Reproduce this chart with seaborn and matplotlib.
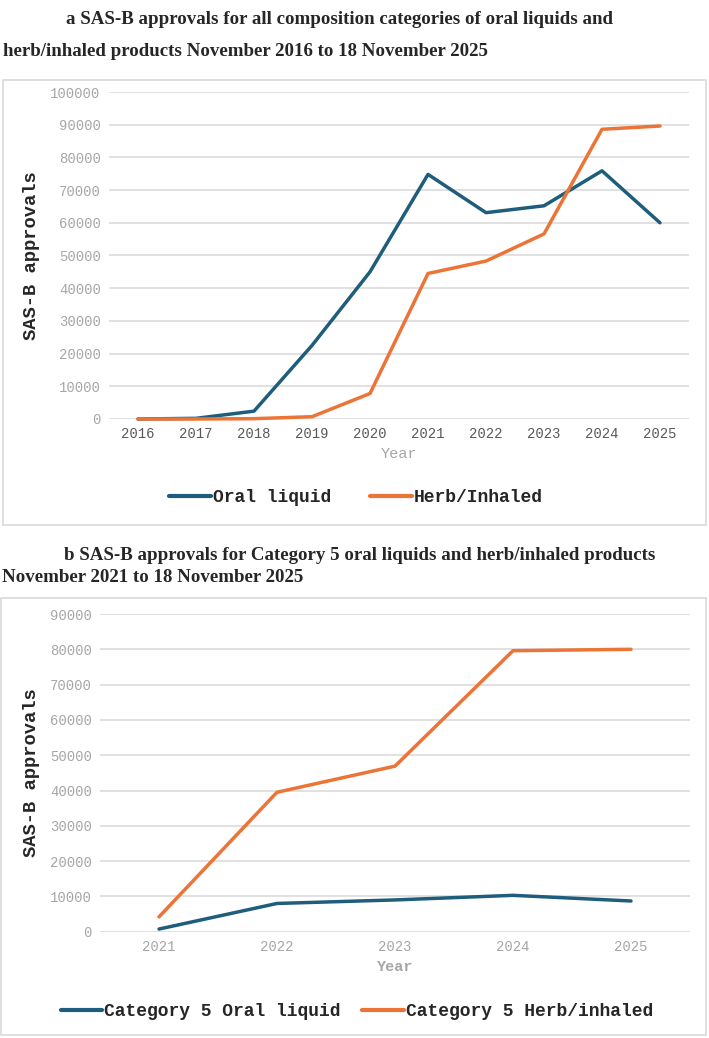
import pandas as pd
import matplotlib.pyplot as plt
import seaborn as sns
from matplotlib.patches import Rectangle

# panel a: all composition categories
years_a = [2016, 2017, 2018, 2019, 2020, 2021, 2022, 2023, 2024, 2025]
oral_a = [0, 200, 2400, 22500, 45000, 74800, 63100, 65200, 75900, 60000]
herb_a = [0, 0, 100, 700, 7800, 44500, 48300, 56600, 88600, 89600]

# panel b: Category 5 only
years_b = [2021, 2022, 2023, 2024, 2025]
oral_b = [750, 8000, 9000, 10300, 8700]
herb_b = [4200, 39500, 46900, 79600, 80000]

BLUE = '#1F5D7C'
ORANGE = '#EB7436'
MONO = 'Liberation Mono'
SERIF = 'Liberation Serif'

sns.set_theme(style="whitegrid")
plt.rcParams['font.family'] = ['Liberation Mono', 'DejaVu Sans']

W, H = 709, 1038
fig = plt.figure(figsize=(W / 100, H / 100), dpi=100)


def fx(x):
    return x / W


def fy(y):
    return 1 - y / H


def add_box(x0, y0, x1, y1):
    fig.patches.append(Rectangle((fx(x0), fy(y1)), fx(x1 - x0), (y1 - y0) / H,
                                 transform=fig.transFigure, fill=False,
                                 edgecolor='#d9d9d9', lw=1.2))


def make_panel(rect, years, oral, herb, labels, ymax, xtick_color, year_bold):
    ax = fig.add_axes(rect)
    df = pd.DataFrame({
        'Year': years * 2,
        'value': oral + herb,
        'Series': [labels[0]] * len(years) + [labels[1]] * len(years),
    })
    sns.lineplot(data=df, x='Year', y='value', hue='Series',
                 palette=[BLUE, ORANGE], linewidth=2.5, ax=ax,
                 legend=False, errorbar=None)
    for ln in ax.lines:
        ln.set_clip_on(False)
    ax.set_xlim(years[0] - 0.5, years[-1] + 0.5)
    ax.set_ylim(0, ymax)
    ax.set_xticks(years)
    ax.set_xticklabels([str(y) for y in years], fontfamily=MONO, fontsize=10,
                       color=xtick_color)
    ax.set_yticks(range(0, ymax + 1, 10000))
    ax.set_yticklabels([str(v) for v in range(0, ymax + 1, 10000)],
                       fontfamily=MONO, fontsize=10, color='#a6a6a6')
    ax.tick_params(length=0, pad=6)
    ax.grid(axis='y', color='#d9d9d9', lw=1.1)
    ax.grid(axis='x', visible=False)
    for s in ax.spines.values():
        s.set_visible(False)
    ax.set_facecolor('none')
    ax.set_xlabel('Year', fontfamily=MONO, fontsize=11, color='#a6a6a6',
                  fontweight='bold' if year_bold else 'normal', labelpad=4)
    ax.set_ylabel('SAS-B approvals', fontfamily=MONO, fontsize=13.5,
                  fontweight='bold', color='#262626', labelpad=10)
    return ax


# ---- panel a ----
fig.text(fx(339), fy(20), 'a SAS-B approvals for all composition categories of oral liquids and',
         family=SERIF, fontweight='bold', fontsize=13.6, ha='center', va='center')
fig.text(fx(3), fy(52), 'herb/inhaled products November 2016 to 18 November 2025',
         family=SERIF, fontweight='bold', fontsize=13.6, ha='left', va='center')
add_box(3, 80, 706, 525)
ax_a = make_panel([fx(109), fy(419), fx(580), 327 / H], years_a, oral_a, herb_a,
                  ['Oral liquid', 'Herb/Inhaled'], 100000, '#595959', False)
ax_a.yaxis.set_label_coords(fx(40 - 109) / fx(580), 0.5)
h_a = [plt.Line2D([], [], color=BLUE, lw=3), plt.Line2D([], [], color=ORANGE, lw=3)]
fig.legend(h_a, ['Oral liquid', 'Herb/Inhaled'], loc='center',
           bbox_to_anchor=(fx(356), fy(498)), ncol=2, frameon=False,
           prop={'family': MONO, 'weight': 'bold', 'size': 13},
           handlelength=2.3, handletextpad=0.1, columnspacing=2.2)

# ---- panel b ----
fig.text(fx(360), fy(555), 'b SAS-B approvals for Category 5 oral liquids and herb/inhaled products',
         family=SERIF, fontweight='bold', fontsize=13.6, ha='center', va='center')
fig.text(fx(2), fy(578), 'November 2021 to 18 November 2025',
         family=SERIF, fontweight='bold', fontsize=13.6, ha='left', va='center')
add_box(1, 598, 706, 1035)
ax_b = make_panel([fx(100), fy(931.7), fx(590), 317.7 / H], years_b, oral_b, herb_b,
                  ['Category 5 Oral liquid', 'Category 5 Herb/inhaled'], 90000,
                  '#a6a6a6', True)
ax_b.yaxis.set_label_coords(fx(40 - 100) / fx(590), 0.5)
h_b = [plt.Line2D([], [], color=BLUE, lw=3), plt.Line2D([], [], color=ORANGE, lw=3)]
fig.legend(h_b, ['Category 5 Oral liquid', 'Category 5 Herb/inhaled'], loc='center',
           bbox_to_anchor=(fx(357), fy(1012)), ncol=2, frameon=False,
           prop={'family': MONO, 'weight': 'bold', 'size': 13},
           handlelength=2.3, handletextpad=0.1, columnspacing=1.2)

fig.savefig('out.png', dpi=100, facecolor='white')
